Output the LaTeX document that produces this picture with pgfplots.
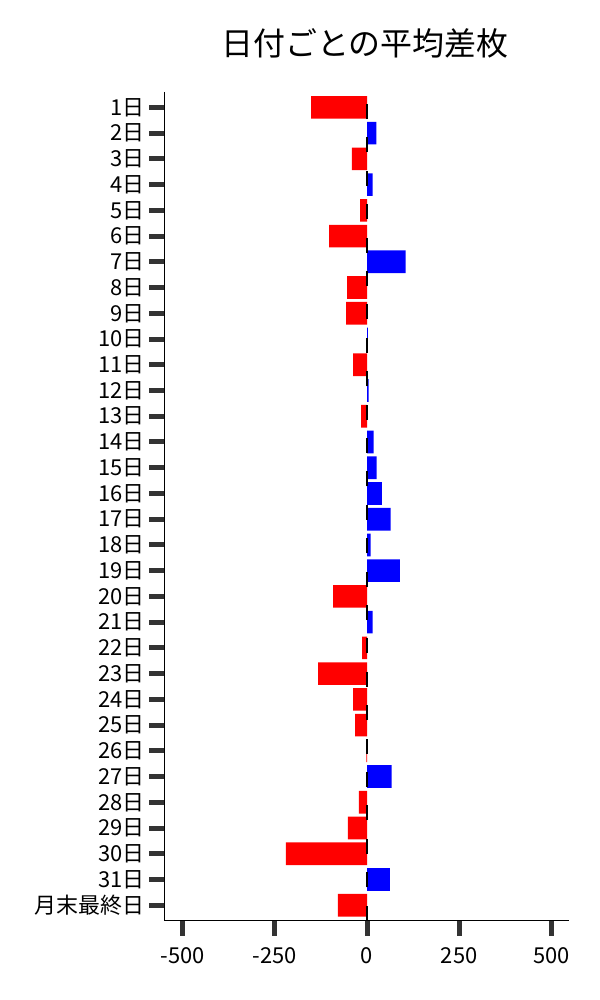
\documentclass[border=0pt]{standalone}
\usepackage{pgfplots}
\pgfplotsset{compat=1.18}
\usepackage{fontspec}
\setmainfont{Noto Sans CJK JP}
\definecolor{barred}{RGB}{255,0,0}
\definecolor{barblue}{RGB}{0,0,255}
\definecolor{tickgray}{RGB}{51,51,51}
\begin{document}
\begin{tikzpicture}
\useasboundingbox (0,0) rectangle (432bp,720bp);
\begin{axis}[
  at={(118.3bp,57.1bp)}, anchor=south west,
  scale only axis, width=291.4bp, height=596.7bp,
  xmin=-550, xmax=548, ymin=-0.6, ymax=31.6, y dir=reverse,
  axis x line*=bottom, axis y line*=left,
  axis line style={-, line width=0.9bp, black},
  xtick={-500,-250,0,250,500},
  xticklabels={-500,-250,0,250,500},
  ytick={0,...,31},
  yticklabels={1日,2日,3日,4日,5日,6日,7日,8日,9日,10日,11日,12日,13日,14日,15日,16日,17日,18日,19日,20日,21日,22日,23日,24日,25日,26日,27日,28日,29日,30日,31日,月末最終日},
  tick align=outside, major tick length=10.8bp,
  tick style={line width=3.6bp, tickgray},
  ticklabel style={font=\fontsize{15.8bp}{17bp}\selectfont},
  xticklabel style={yshift=-5bp},
  /pgf/number format/assume math mode=true,
]
\addplot[xbar, bar width=0.88, bar shift=0pt, fill=barred, draw=none] coordinates {
(-152,0) (-41,2) (-19,4) (-103,5) (-54,7) (-57,8) (-38,10) (-16,12)
(-92,19) (-13,21) (-133,22) (-38,23) (-32,24) (-2,25) (-22,27) (-52,28) (-220,29) (-79,31)
};
\addplot[xbar, bar width=0.88, bar shift=0pt, fill=barblue, draw=none] coordinates {
(25,1) (15,3) (105,6) (2,9) (4,11) (18,13) (26,14) (40,15) (64,16) (10,17) (89,18)
(15,20) (67,26) (62,30)
};
\addplot[black, line width=1.5bp, dash pattern=on 10.8bp off 13.25bp, mark=none] coordinates {(0,31.6) (0,-0.6)};
\end{axis}
\node[font=\fontsize{23bp}{26bp}\selectfont] at (262.8bp,689bp) {日付ごとの平均差枚};
\end{tikzpicture}
\end{document}
